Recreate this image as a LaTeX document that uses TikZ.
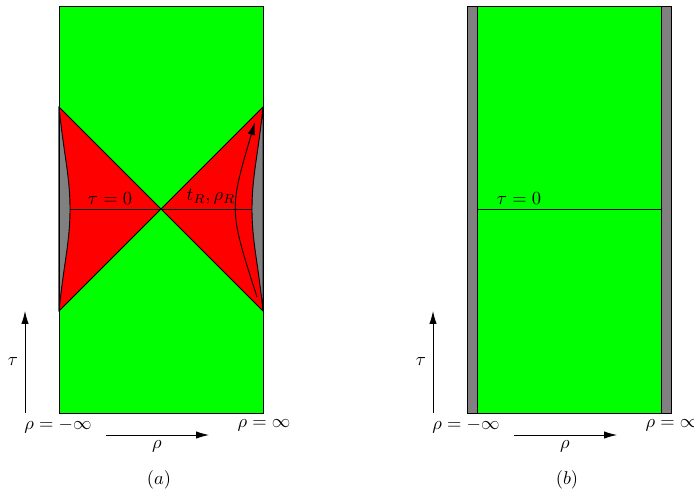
\documentclass[tikz,border=0pt]{standalone}
\usetikzlibrary{arrows.meta}
\definecolor{bulk}{RGB}{0,255,0}
\definecolor{wedge}{RGB}{255,0,0}
\definecolor{edge}{RGB}{128,128,128}
\begin{document}
\begin{tikzpicture}[x=0.019cm, y=0.019cm, line width=0.5pt]

    \useasboundingbox (0,0) rectangle (694,492);
    \def\midY{283}

    % panel (a)
    \coordinate (A0) at (59,79);
    \coordinate (A1) at (263,486);
    \coordinate (Amid) at (161,\midY);

    \fill[bulk] (A0) rectangle (A1);
    \filldraw[fill=wedge] (59,181) -- (Amid) -- (59,385) -- cycle;
    \filldraw[fill=wedge] (263,181) -- (Amid) -- (263,385) -- cycle;
    \filldraw[fill=edge] (59,181) .. controls (64,230) and (70,250) .. (70,\midY)
      .. controls (70,316) and (64,336) .. (59,385) -- cycle;
    \filldraw[fill=edge] (263,181) .. controls (258,230) and (252,250) .. (252,\midY)
      .. controls (252,316) and (258,336) .. (263,385) -- cycle;
    \draw (A0) rectangle (A1);
    \draw (70,\midY) -- (252,\midY);

    \coordinate (arrS) at (257,195);
    \coordinate (arrE) at (255,370);
    \draw[-{Latex[length=7pt,width=4pt]}] (arrS) .. controls (229,282) .. (arrE);

    \node (tauzeroA) at (110,293) {$\tau=0$};
    \node (tR) at (211,295) {$t_R,\rho_R$};

    % panel (b)
    \coordinate (B0) at (467,79);
    \coordinate (B1) at (671,486);

    \fill[bulk] (B0) rectangle (B1);
    \filldraw[fill=edge] (467,79) rectangle (477,486);
    \filldraw[fill=edge] (661,79) rectangle (671,486);
    \draw (B0) rectangle (B1);
    \draw (477,\midY) -- (661,\midY);
    \node (tauzeroB) at (519,293) {$\tau=0$};

    % axes and captions
    \foreach \ox/\lab in {0/a, 408/b} {
      \coordinate (tau0\lab) at (25+\ox,79);
      \coordinate (tau1\lab) at (25+\ox,181);
      \draw[-{Latex[length=7pt,width=4pt]}] (tau0\lab) -- (tau1\lab);
      \node (tau\lab) at (13+\ox,130) {$\tau$};

      \coordinate (rho0\lab) at (106+\ox,57);
      \coordinate (rho1\lab) at (209+\ox,57);
      \draw[-{Latex[length=7pt,width=4pt]}] (rho0\lab) -- (rho1\lab);
      \node (rho\lab) at (157+\ox,46) {$\rho$};

      \node (minf\lab) at (58+\ox,66) {$\rho=-\infty$};
      \node (pinf\lab) at (264+\ox,67) {$\rho=\infty$};
      \node (cap\lab) at (159+\ox,12) {$(\lab)$};
    }

  \end{tikzpicture}
\end{document}
